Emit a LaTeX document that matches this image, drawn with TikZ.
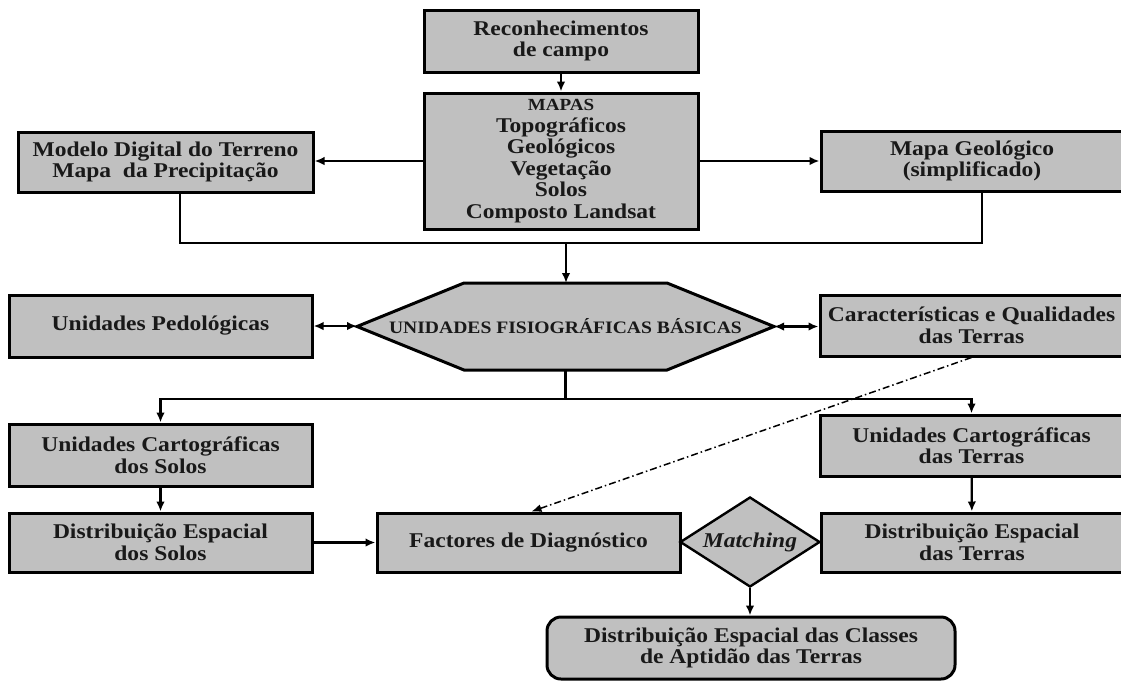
\documentclass[tikz,border=0pt]{standalone}
\usepackage{fontspec}
\setmainfont{Liberation Serif}[FakeStretch=1.12]
\usetikzlibrary{arrows.meta,shapes.geometric,backgrounds,calc}
\definecolor{boxgray}{RGB}{192,192,192}
\definecolor{ink}{RGB}{25,25,25}

\begin{document}
\begin{tikzpicture}[x=1pt,y=-1pt,
  box/.style={draw=black, line width=3pt, fill=boxgray, text=ink, align=center,
    inner sep=0pt, font=\bfseries\fontsize{21}{21.5}\selectfont},
  link/.style={line width=2.2pt, draw=black},
  arr/.style={link, -{Latex[length=10pt,width=8.5pt]}},
  darr/.style={link, {Latex[length=10pt,width=8.5pt]}-{Latex[length=10pt,width=8.5pt]}},
  dotdash/.style={line width=1.5pt, dash pattern=on 7pt off 3pt on 1.5pt off 3pt,
    -{Latex[length=10pt,width=8pt]}}
]
\useasboundingbox (0,0) rectangle (1121,681);
\clip (0,0) rectangle (1121,681);

% top row
\node[box, minimum width=274pt, minimum height=62pt] (reco) at (561,41) {Reconhecimentos\\de campo};
\node[box, minimum width=274pt, minimum height=136pt] (mapas) at (561,161)
  {{\fontsize{17}{21.5}\selectfont MAPAS}\\Topográficos\\Geológicos\\Vegetação\\Solos\\Composto Landsat};
\node[box, minimum width=295pt, minimum height=60pt] (modelo) at (165.5,162)
  {Modelo Digital do Terreno\\Mapa\ \ da Precipitação};
\node[box, minimum width=302pt, minimum height=60pt] (geo) at (972,161)
  {Mapa Geológico\\(simplificado)};

% central hexagon
\node[text=ink, font=\bfseries\fontsize{17.5}{20}\selectfont, minimum width=417pt,
  minimum height=87pt, inner sep=0pt, outer sep=0pt] (hex) at (565.5,326.5)
  {UNIDADES FISIOGRÁFICAS BÁSICAS};
\begin{pgfonlayer}{background}
\draw[line width=3pt, fill=boxgray, line join=miter]
  (hex.west) -- ([xshift=107pt]hex.north west) -- ([xshift=-107pt]hex.north east)
  -- (hex.east) -- ([xshift=-107pt]hex.south east) -- ([xshift=107pt]hex.south west) -- cycle;
\end{pgfonlayer}
\node[box, minimum width=303pt, minimum height=62pt] (ped) at (160.5,326) {Unidades Pedológicas};
\node[box, minimum width=303pt, minimum height=61pt] (car) at (971.5,325.5)
  {Características e Qualidades\\das Terras};

% lower rows
\node[box, minimum width=303pt, minimum height=62pt] (ucs) at (160.5,455)
  {Unidades Cartográficas\\dos Solos};
\node[box, minimum width=303pt, minimum height=61pt] (uct) at (971.5,445.5)
  {Unidades Cartográficas\\das Terras};
\node[box, minimum width=303pt, minimum height=59pt] (dss) at (160.5,542.5)
  {Distribuição Espacial\\dos Solos};
\node[box, minimum width=303pt, minimum height=59pt] (fac) at (528.5,542.5)
  {Factores de Diagnóstico};
\node[box, minimum width=302pt, minimum height=59pt] (dst) at (972,542.5)
  {Distribuição Espacial\\das Terras};
\node[box, diamond, aspect=1.556, line width=2.4pt, minimum width=140pt, minimum height=90pt,
  font=\bfseries\itshape\fontsize{21}{22}\selectfont] (match) at (750,542) {Matching};
\node[box, rounded corners=14pt, minimum width=408pt, minimum height=62pt] (final) at (751,648)
  {Distribuição Espacial das Classes\\de Aptidão das Terras};

% connectors
\draw[arr] (reco) -- (mapas);
\draw[arr] (mapas.west) -- (mapas.west -| modelo.east);
\draw[arr] (mapas.east) -- (mapas.east -| geo.west);
\coordinate (j1) at (566,243);
\draw[link] ([xshift=14.5pt]modelo.south) |- (j1) -| ([xshift=10pt]geo.south);
\draw[arr] (j1) -- (j1 |- hex.north);
\draw[darr] (ped.east) -- (ped.east -| hex.west);
\draw[darr] (hex.east) -- (hex.east -| car.west);
\coordinate (j2) at (565.5,399);
\draw[link] (hex.south) -- (j2);
\draw[arr] (j2) -| (ucs.north);
\draw[arr] (j2) -| (uct.north);
\draw[arr] (ucs) -- (dss);
\draw[arr] (uct) -- (dst);
\draw[arr] (dss.east) -- (dss.east -| fac.west);
\draw[arr] (match.south) -- (match.south |- final.north);
\draw[dotdash] (car.south) -- ([xshift=3pt]fac.north);
\end{tikzpicture}
\end{document}
